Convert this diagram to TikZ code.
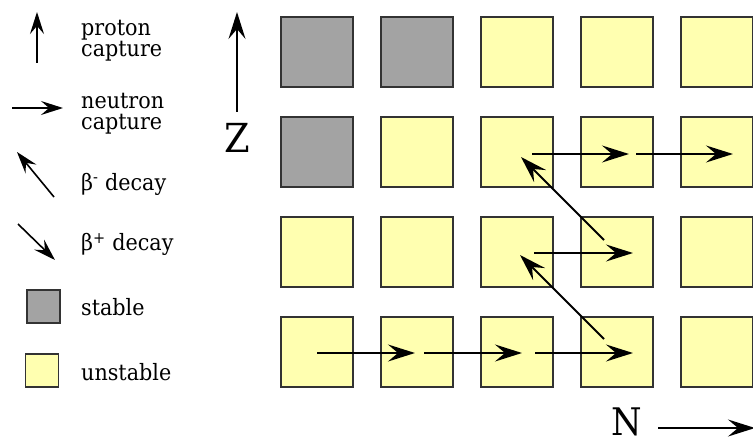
\documentclass[tikz,border=0pt]{standalone}
\usepackage{fontspec}
\setmainfont{DejaVu Serif}[FakeStretch=0.92]
\usetikzlibrary{arrows.meta,calc}
\definecolor{stablegray}{HTML}{A3A3A3}
\definecolor{unstableyellow}{HTML}{FFFFB0}
\definecolor{edgegray}{HTML}{333333}
\begin{document}
\begin{tikzpicture}[x=1pt,y=-1pt,
  cell/.style={draw=edgegray,line width=2pt,minimum width=72pt,minimum height=70.5pt,inner sep=0pt,outer sep=0pt},
  stablecell/.style={cell,fill=stablegray},
  unstablecell/.style={cell,fill=unstableyellow},
  keycell/.style={line width=1.6pt,minimum width=33pt,minimum height=33pt},
  arr/.style={line width=1.8pt,-{Stealth[length=27pt,width=17pt,inset=10pt]}},
  legarr/.style={line width=1.6pt,-{Stealth[length=22pt,width=14pt,inset=8pt]}},
  legtext/.style={anchor=base west,inner sep=0pt,font=\fontsize{22.5}{22.5}\selectfont},
  axislabel/.style={inner sep=0pt,font=\fontsize{40}{40}\selectfont}]
\useasboundingbox (0,0) rectangle (753,441);
\clip (0,0) rectangle (753,441);

% chart of nuclides: column = N, row = Z
\foreach \c in {0,...,4}{
  \foreach \r in {0,...,3}{
    \pgfmathtruncatemacro{\isstable}{((\r==3)&&(\c<2))||((\r==2)&&(\c==0))}
    \ifnum\isstable=1 \def\kind{stablecell}\else\def\kind{unstablecell}\fi
    \node[\kind] (c\c\r) at ({317+100*\c},{352-100*\r}) {};
  }
}

% neutron captures
\draw[arr] ($(c00.center)+(0,1)$) -- ($(c10.center)+(-2,1)$);
\draw[arr] ($(c10.center)+(7,1)$) -- ($(c20.center)+(5,1)$);
\draw[arr] ($(c20.center)+(18,1)$) -- ($(c30.center)+(16,1)$);
\draw[arr] ($(c21.center)+(17,1)$) -- ($(c31.center)+(16,1)$);
\draw[arr] ($(c22.center)+(15,2)$) -- ($(c32.center)+(12,2)$);
\draw[arr] ($(c32.center)+(19,2)$) -- ($(c42.center)+(16,2)$);

% beta-minus decays
\draw[arr] ($(c30.center)+(-13,-13)$) -- ($(c21.center)+(3,3)$);
\draw[arr] ($(c31.center)+(-13,-12)$) -- ($(c22.center)+(4,5)$);

% axes
\node[axislabel] (zlab) at (237,138) {Z};
\coordinate (ztail) at (237,112);
\coordinate (ztip) at (237,12);
\draw[arr] (ztail) -- (ztip);
\node[axislabel,font=\fontsize{38}{38}\selectfont] (nlab) at (627,422) {N};
\coordinate (ntail) at (658,428);
\coordinate (ntip) at (755,428);
\draw[arr] (ntail) -- (ntip);

% legend
\draw[legarr] (37,63) -- (37,12);
\draw[legarr] (12,108) -- (63,108);
\draw[legarr] (54,197) -- (17,152);
\draw[legarr] (18,224) -- (55,260);
\node[stablecell,keycell] (keystable) at (43.5,306.5) {};
\node[unstablecell,keycell] (keyunstable) at (42,370.5) {};

\node[legtext] (lp1) at (81,36) {proton};
\node[legtext] (lp2) at (81,57) {capture};
\node[legtext] (ln1) at (81,109) {neutron};
\node[legtext] (ln2) at (81,130) {capture};
\node[legtext] (lbm) at (81,190) {β\textsuperscript{-} decay};
\node[legtext] (lbp) at (81,251) {β\textsuperscript{+} decay};
\node[legtext] (ls) at (81,315) {stable};
\node[legtext] (lu) at (81,380) {unstable};
\end{tikzpicture}
\end{document}
